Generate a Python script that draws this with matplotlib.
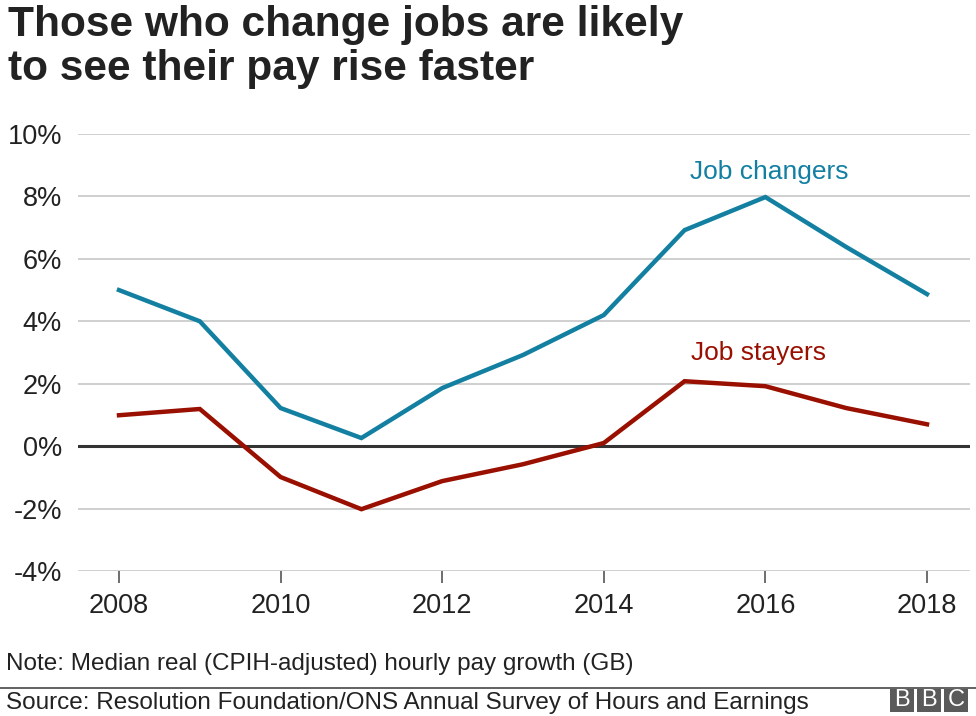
import matplotlib.pyplot as plt
from matplotlib.patches import Rectangle

years = [2008, 2009, 2010, 2011, 2012, 2013, 2014, 2015, 2016, 2017, 2018]
job_changers = [5.0, 4.0, 1.22, 0.26, 1.86, 2.92, 4.2, 6.92, 7.98, 6.38, 4.87]
job_stayers = [0.99, 1.19, -0.99, -2.02, -1.12, -0.58, 0.1, 2.08, 1.92, 1.22, 0.7]
y_ticks = [-4, -2, 0, 2, 4, 6, 8, 10]
x_ticks = [2008, 2010, 2012, 2014, 2016, 2018]

TEAL = '#1380a1'
RED = '#990f00'

plt.rcParams['font.family'] = ['Liberation Sans', 'DejaVu Sans']

fig = plt.figure(figsize=(9.76, 7.16), dpi=100)
W, H = 976, 716
# axes box in pixels: left 78, right 970, top 134 (10%), bottom 571 (-4%)
ax = fig.add_axes([78 / W, 1 - 571 / H, (970 - 78) / W, (571 - 134) / H])

ax.plot(years, job_changers, color=TEAL, lw=3.2, solid_joinstyle='miter', zorder=3)
ax.plot(years, job_stayers, color=RED, lw=3.2, solid_joinstyle='miter', zorder=3)

ax.set_xlim(2008 - 41 / 80.8, 2018 + 43 / 80.8)
ax.set_ylim(-4, 10)
ax.set_yticks(y_ticks)
ax.set_yticklabels([f'{t}%' for t in y_ticks])
ax.set_xticks(x_ticks)
ax.set_xticklabels([str(t) for t in x_ticks])

for t in y_ticks:
    if t != 0:
        ax.axhline(t, color='#cccccc', lw=1.3, zorder=1)
ax.axhline(0, color='#333333', lw=2.2, zorder=2)

for s in ax.spines.values():
    s.set_visible(False)
ax.tick_params(axis='y', length=0, pad=11.5, labelsize=19.5, labelcolor='#222222')
ax.tick_params(axis='x', length=8.6, width=1.2, color='#555555', pad=7,
               labelsize=19.5, labelcolor='#222222')

ax.text(2016.05, 8.78, 'Job changers', color=TEAL, fontsize=19, ha='center', va='center')
ax.text(2015.91, 2.98, 'Job stayers', color=RED, fontsize=19, ha='center', va='center')

fig.text(8 / W, 1 - 5 / H, 'Those who change jobs are likely\nto see their pay rise faster',
         fontsize=30.6, fontweight='bold', color='#222222', ha='left', va='top',
         linespacing=1.13)

fig.text(6 / W, 1 - 664 / H, 'Note: Median real (CPIH-adjusted) hourly pay growth (GB)',
         fontsize=17.5, color='#222222', ha='left', va='center')
fig.add_artist(plt.Line2D([0, 1], [1 - 688 / H, 1 - 688 / H], transform=fig.transFigure,
                          color='#555555', lw=1.3))
fig.text(6 / W, 1 - 703 / H, 'Source: Resolution Foundation/ONS Annual Survey of Hours and Earnings',
         fontsize=17.5, color='#222222', ha='left', va='center')

# BBC blocks
for i, letter in enumerate('BBC'):
    x0 = 890 + i * 27
    fig.add_artist(Rectangle((x0 / W, 1 - 712 / H), 24 / W, 23 / H,
                             transform=fig.transFigure, color='#5a5a5a', lw=0))
    fig.text((x0 + 12) / W, 1 - 700.5 / H, letter, color='white', fontsize=17,
             ha='center', va='center')

fig.savefig('out.png', dpi=100)
